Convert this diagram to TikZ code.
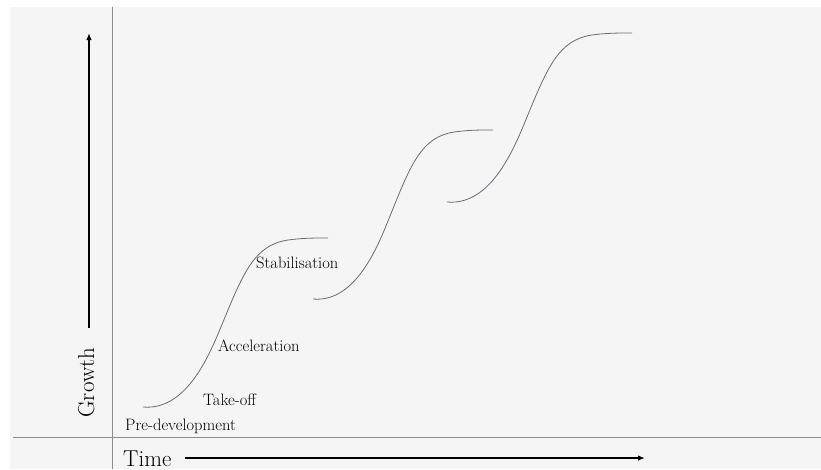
\documentclass[tikz,border=0pt]{standalone}
\usepackage[dvipsnames]{xcolor}
\usepackage{tikz}
\usetikzlibrary{arrows.meta}

\definecolor{panelgrey}{HTML}{F5F5F5}
\definecolor{axisgrey}{HTML}{8C8C8C}
\definecolor{curvegrey}{HTML}{6A6A76}

\begin{document}
\begin{tikzpicture}[x=1pt, y=-1pt,
  phase/.style={anchor=base west, inner sep=0pt, font=\fontsize{16.5}{19}\selectfont},
  axislabel/.style={anchor=base west, inner sep=0pt, font=\fontsize{23}{27}\selectfont},
  scurve/.style={line width=0.8pt, color=curvegrey},
  bigarrow/.style={line width=1.8pt, -{Latex[length=7pt,width=5.5pt]}}]
\useasboundingbox (0,0) rectangle (821,469);
\fill[white] (0,0) rectangle (821,469);
\fill[panelgrey] (10,7) rectangle (821,469);
\draw[line width=0.9pt, color=axisgrey] (112,7) -- (112,469);
\draw[line width=0.9pt, color=axisgrey] (13,437) -- (821,437);
\begin{scope}[shift={(143,407)}]
\draw[scurve] (0,0) .. controls (45,4) and (68,-56) .. (80,-85) .. controls (101,-136) and (112,-162) .. (145,-167) .. controls (160,-169) and (170,-169) .. (185,-169);
\end{scope}
\begin{scope}[shift={(313,299)}, xscale=0.973]
\draw[scurve] (0,0) .. controls (45,4) and (68,-56) .. (80,-85) .. controls (101,-136) and (112,-162) .. (145,-167) .. controls (160,-169) and (170,-169) .. (185,-169);
\end{scope}
\begin{scope}[shift={(447,202)}]
\draw[scurve] (0,0) .. controls (45,4) and (68,-56) .. (80,-85) .. controls (101,-136) and (112,-162) .. (145,-167) .. controls (160,-169) and (170,-169) .. (185,-169);
\end{scope}
\node[phase] (predev) at (125,430) {Pre-development};
\node[phase] (takeoff) at (203,405) {Take-off};
\node[phase] (accel) at (218,351) {Acceleration};
\node[phase] (stab) at (256,268) {Stabilisation};
\node[axislabel] (time) at (123,466) {Time};
\node[axislabel, rotate=90] (growth) at (94,418) {Growth};
\coordinate (timestart) at (185,458);
\coordinate (timeend) at (645,458);
\coordinate (growthstart) at (89,328);
\coordinate (growthend) at (89,33);
\draw[bigarrow] (timestart) -- (timeend);
\draw[bigarrow] (growthstart) -- (growthend);
\end{tikzpicture}
\end{document}
